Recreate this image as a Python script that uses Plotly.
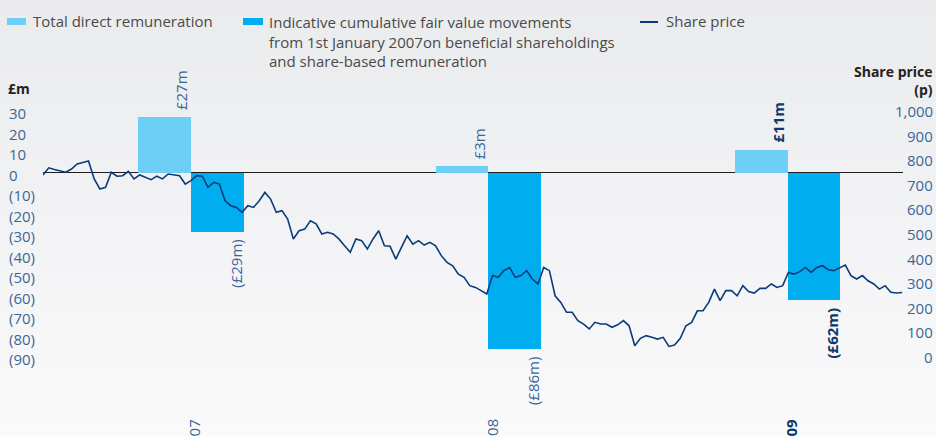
import plotly.graph_objects as go
import pandas as pd

# ---------------- data ----------------
year_labels = ["07", "08", "09"]
year_mid_dates = ["2007-07-02", "2008-07-02", "2009-07-05"]
total_direct = [27, 3, 11]
fair_value = [-29, -86, -62]
total_labels = ["£27m", "£3m", "£11m"]
fair_labels = ["(£29m)", "(£86m)", "(£62m)"]
bold_year = [False, False, True]

price_start = "2007-01-01"
share_price = [
    740, 769, 762, 755, 751, 764, 785, 791, 797, 724,
    683, 690, 751, 735, 737, 755, 724, 740, 730, 721,
    735, 724, 744, 740, 737, 703, 717, 737, 735, 690,
    710, 703, 635, 615, 608, 588, 615, 608, 635, 669,
    642, 588, 595, 561, 480, 513, 520, 554, 541, 500,
    507, 500, 480, 452, 426, 480, 473, 439, 480, 513,
    452, 450, 398, 446, 493, 459, 473, 455, 466, 452,
    412, 385, 371, 337, 324, 290, 283, 270, 256, 331,
    324, 351, 364, 324, 331, 351, 317, 297, 364, 351,
    249, 222, 182, 182, 148, 134, 114, 141, 134, 134,
    121, 131, 148, 127, 46, 76, 87, 80, 73, 80,
    43, 49, 76, 127, 141, 188, 188, 222, 276, 229,
    270, 270, 249, 290, 266, 260, 279, 279, 297, 283,
    290, 344, 337, 347, 364, 344, 364, 371, 355, 351,
    361, 374, 331, 317, 331, 310, 297, 276, 290, 263,
    260, 262,
]
price_dates = pd.date_range(price_start, periods=len(share_price), freq="7D")

left_ticks = [30, 20, 10, 0, -10, -20, -30, -40, -50, -60, -70, -80, -90]
left_tick_text = ["30", "20", "10", "0", "(10)", "(20)", "(30)", "(40)", "(50)",
                  "(60)", "(70)", "(80)", "(90)"]
right_ticks = [1000, 900, 800, 700, 600, 500, 400, 300, 200, 100, 0]
right_tick_text = ["1,000", "900", "800", "700", "600", "500", "400", "300",
                   "200", "100", "0"]

legend_names = ["Total direct remuneration",
                "Indicative cumulative fair value movements<br>from 1st January 2007on beneficial shareholdings<br>and share-based remuneration",
                "Share price"]

# ---------------- style ----------------
W, H = 936, 436
L, R, T, B = 43, 33, 95, 64
PW, PH = W - L - R, H - T - B
LIGHT = "#6dcff6"
DARK = "#00aeef"
LINE = "#0b3b78"
TICK = "#3a6799"
BOLDBLUE = "#0d386b"
FONT = "Open Sans"

def px_x(px):
    return (px - L) / PW

def px_y(py):
    return (T + PH - py) / PH

y_range = [-97.3, 37.8]
y2_range = [(v + 90) * 1000 / 120 for v in y_range]
bar_days = 65
bar_ms = bar_days * 24 * 3600 * 1000

fig = go.Figure()
fig.add_trace(go.Bar(x=year_mid_dates, y=total_direct, offset=-bar_ms, width=bar_ms,
                     marker=dict(color=LIGHT, line=dict(width=0)), showlegend=False,
                     name=legend_names[0]))
fig.add_trace(go.Bar(x=year_mid_dates, y=fair_value, offset=0, width=bar_ms,
                     marker=dict(color=DARK, line=dict(width=0)), showlegend=False,
                     name="Indicative cumulative fair value movements"))
fig.add_trace(go.Scatter(x=price_dates, y=share_price, yaxis="y2", mode="lines",
                         line=dict(color=LINE, width=1.6), showlegend=False,
                         name=legend_names[2]))

annotations = []
shapes = []

# background gradient
nb = 30
top_c = (234, 235, 237)
bot_c = (250, 250, 251)
for k in range(nb):
    f = k / (nb - 1)
    c = tuple(round(top_c[j] + (bot_c[j] - top_c[j]) * f) for j in range(3))
    shapes.append(dict(type="rect", xref="paper", yref="paper", layer="below",
                       x0=px_x(-2), x1=px_x(W + 2),
                       y0=px_y(H * (k + 1) / nb + 1), y1=px_y(H * k / nb),
                       fillcolor="rgb(%d,%d,%d)" % c, line=dict(width=0)))

# left tick labels
for v, t in zip(left_ticks, left_tick_text):
    annotations.append(dict(x=px_x(7), xref="paper", y=v, yref="y", text=t,
                            xanchor="left", yanchor="middle", showarrow=False, yshift=-2,
                            font=dict(family=FONT, size=15, color=TICK)))
# right tick labels
for v, t in zip(right_ticks, right_tick_text):
    annotations.append(dict(x=px_x(935), xref="paper", y=v, yref="y2", text=t,
                            xanchor="right", yanchor="middle", showarrow=False,
                            font=dict(family=FONT, size=15, color=TICK)))

# axis titles
annotations.append(dict(x=px_x(6), xref="paper", y=px_y(89), yref="paper", text="<b>£m</b>",
                        xanchor="left", yanchor="middle", showarrow=False,
                        font=dict(family=FONT, size=14, color="#222222")))
annotations.append(dict(x=px_x(935), xref="paper", y=px_y(80.5), yref="paper",
                        text="<b>Share price</b><br><b>(p)</b>", xanchor="right",
                        yanchor="middle", align="right",
                        showarrow=False, font=dict(family=FONT, size=14, color="#222222")))

# bar value labels
for i in range(len(year_labels)):
    col = BOLDBLUE if bold_year[i] else TICK
    tl = "<b>%s</b>" % total_labels[i] if bold_year[i] else total_labels[i]
    fl = "<b>%s</b>" % fair_labels[i] if bold_year[i] else fair_labels[i]
    annotations.append(dict(x=year_mid_dates[i], xref="x", y=total_direct[i], yref="y",
                            text=tl, textangle=-90, xanchor="center", yanchor="bottom",
                            xshift=-10, yshift=5, showarrow=False,
                            font=dict(family=FONT, size=15, color=col)))
    right_edge = (pd.Timestamp(year_mid_dates[i]) + pd.Timedelta(days=bar_days)).strftime("%Y-%m-%d")
    annotations.append(dict(x=right_edge, xref="x", y=fair_value[i], yref="y",
                            text=fl, textangle=-90, xanchor="center", yanchor="top",
                            xshift=-8, yshift=-6, showarrow=False,
                            font=dict(family=FONT, size=15, color=col)))
    yl = "<b>%s</b>" % year_labels[i] if bold_year[i] else year_labels[i]
    annotations.append(dict(x=year_mid_dates[i], xref="x", y=px_y(417), yref="paper",
                            text=yl, textangle=-90, xanchor="center", yanchor="top",
                            xshift=3, showarrow=False,
                            font=dict(family=FONT, size=15, color=col)))

# manual legend
LEG_TXT = "#4a4a4a"
shapes.append(dict(type="rect", xref="paper", yref="paper", x0=px_x(7), x1=px_x(26),
                   y0=px_y(25), y1=px_y(18), fillcolor=LIGHT, line=dict(width=0)))
shapes.append(dict(type="rect", xref="paper", yref="paper", x0=px_x(243), x1=px_x(263),
                   y0=px_y(25), y1=px_y(18), fillcolor=DARK, line=dict(width=0)))
shapes.append(dict(type="line", xref="paper", yref="paper", x0=px_x(640), x1=px_x(658),
                   y0=px_y(22), y1=px_y(22), line=dict(color=LINE, width=2)))
annotations.append(dict(x=px_x(31), xref="paper", y=px_y(21), yref="paper",
                        text=legend_names[0], xanchor="left", yanchor="middle",
                        showarrow=False, font=dict(family=FONT, size=15, color=LEG_TXT)))
annotations.append(dict(x=px_x(267), xref="paper", y=px_y(10), yref="paper",
                        text=legend_names[1], xanchor="left", yanchor="top", align="left",
                        showarrow=False, font=dict(family=FONT, size=15, color=LEG_TXT)))
annotations.append(dict(x=px_x(664), xref="paper", y=px_y(21), yref="paper",
                        text=legend_names[2], xanchor="left", yanchor="middle",
                        showarrow=False, font=dict(family=FONT, size=15, color=LEG_TXT)))

fig.update_layout(
    width=W, height=H,
    margin=dict(l=L, r=R, t=T, b=B, pad=0),
    paper_bgcolor="#f2f2f3",
    plot_bgcolor="rgba(0,0,0,0)",
    barmode="overlay",
    bargap=0,
    showlegend=False,
    font=dict(family=FONT, size=15, color=TICK),
    xaxis=dict(type="date", range=["2007-01-01", "2009-11-24"], showgrid=False,
               zeroline=False, showline=False, showticklabels=False, ticks=""),
    yaxis=dict(range=y_range, showgrid=False, zeroline=True, zerolinecolor="#1e1e1e",
               zerolinewidth=1.3, showline=False, showticklabels=False, ticks=""),
    yaxis2=dict(range=y2_range, overlaying="y", side="right", showgrid=False,
                zeroline=False, showline=False, showticklabels=False, ticks=""),
    shapes=shapes,
    annotations=annotations,
)

fig.write_html(
    "out.html",
    config={"displayModeBar": False},
    post_script="document.body.style.margin='0';document.body.style.overflow='hidden';",
)
